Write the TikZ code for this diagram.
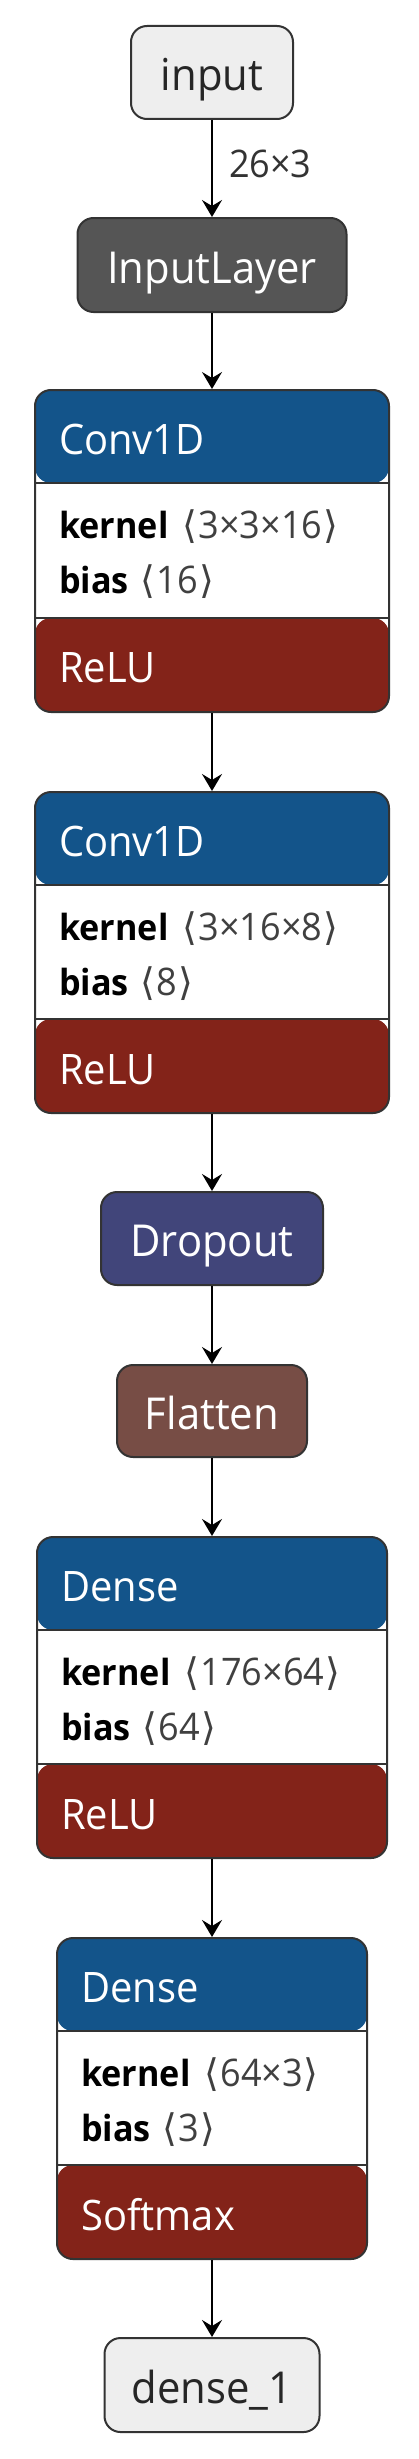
\documentclass[tikz,border=0pt]{standalone}
\usepackage{fontspec}
\setmainfont{Open Sans}[FakeStretch=0.95]
\newfontfamily\dvs{DejaVu Sans}
\usetikzlibrary{arrows.meta}
\definecolor{hdrc}{HTML}{13548A}
\definecolor{actc}{HTML}{832319}
\definecolor{dropc}{HTML}{41457A}
\definecolor{flatc}{HTML}{774D45}
\definecolor{datac}{HTML}{555555}
\definecolor{ioc}{HTML}{EEEEEE}
\definecolor{bordc}{HTML}{333333}
\definecolor{valc}{HTML}{404040}
\newcommand\labr{{\dvs ⟨}\hspace{1pt}}
\newcommand\rabr{\hspace{1pt}{\dvs ⟩}}
\tikzset{
  box/.style={draw=bordc, line width=2pt, rounded corners=16pt, inner sep=0pt},
  simple/.style={box, text height=40pt, text depth=4pt, font=\fontsize{44}{50}\selectfont},
  iobox/.style={simple, fill=ioc, text=black!85},
  darkbox/.style={simple, text=white},
  layerbox/.style={box, fill=white, path picture={
      \fill[hdrc] (path picture bounding box.north west) rectangle ([yshift=-93pt]path picture bounding box.north east);
      \fill[actc] (path picture bounding box.south west) rectangle ([yshift=94pt]path picture bounding box.south east);
      \draw[bordc, line width=1.5pt] ([yshift=-93pt]path picture bounding box.north west) -- ([yshift=-93pt]path picture bounding box.north east);
      \draw[bordc, line width=1.5pt] ([yshift=94pt]path picture bounding box.south west) -- ([yshift=94pt]path picture bounding box.south east);
    }},
  ttl/.style={anchor=base west, inner sep=0pt, text=white, font=\fontsize{42}{48}\selectfont},
  attr/.style={anchor=base west, inner sep=0pt, text=black, font=\fontsize{36}{42}\selectfont},
  lblstyle/.style={inner sep=0pt, text=bordc, font=\fontsize{38}{44}\selectfont},
  arr/.style={-{Stealth[length=17pt,width=20pt,inset=6pt]}, line width=2pt, draw=black},
}
\newcommand\valtxt[1]{{\fontsize{38}{42}\selectfont\color{valc}\labr#1\rabr}}
% name, left, right, top, bottom, title, kernel, bias, activation
\newcommand\layerblock[9]{%
  \node[layerbox, minimum width={#3-#2}, minimum height={#5-#4}] (#1) at ({(#2+#3)/2},{(#4+#5)/2}) {};
  \node[ttl] (#1-title) at ({#2+24},{#4+64}) {#6};
  \node[attr] (#1-kernel) at ({#2+24},{#4+148}) {\textbf{kernel}\hspace{14pt}\valtxt{#7}};
  \node[attr] (#1-bias) at ({#2+24},{#4+203}) {\textbf{bias}\hspace{12pt}\valtxt{#8}};
  \node[ttl] (#1-act) at ({#2+24},{#4+292}) {#9};
}
\begin{document}
\begin{tikzpicture}[x=1pt,y=-1pt]
\useasboundingbox (0,0) rectangle (419,2459);
\node[iobox, minimum width=162, minimum height=93] (input) at (212,72.5) {input};
\node[darkbox, fill=datac, minimum width=269, minimum height=94] (inputlayer) at (212,265) {InputLayer};
\layerblock{conv1}{35}{389}{390}{712}{Conv1D}{3×3×16}{16}{ReLU}
\layerblock{conv2}{35}{389}{792}{1113}{Conv1D}{3×16×8}{8}{ReLU}
\node[darkbox, fill=dropc, minimum width=222, minimum height=93] (dropout) at (212,1238.5) {Dropout};
\node[darkbox, fill=flatc, minimum width=190, minimum height=92] (flatten) at (212,1411) {Flatten};
\layerblock{dense1}{37}{387}{1537}{1858}{Dense}{176×64}{64}{ReLU}
\layerblock{dense2}{57}{367}{1938}{2259}{Dense}{64×3}{3}{Softmax}
\node[iobox, minimum width=215, minimum height=94] (output) at (212,2385) {dense\_1};
\draw[arr] (input) -- node[lblstyle, anchor=west, xshift=16pt, yshift=5pt] (shape) {26×3} (inputlayer);
\draw[arr] (inputlayer) -- (conv1);
\draw[arr] (conv1) -- (conv2);
\draw[arr] (conv2) -- (dropout);
\draw[arr] (dropout) -- (flatten);
\draw[arr] (flatten) -- (dense1);
\draw[arr] (dense1) -- (dense2);
\draw[arr] (dense2) -- (output);
\end{tikzpicture}
\end{document}
